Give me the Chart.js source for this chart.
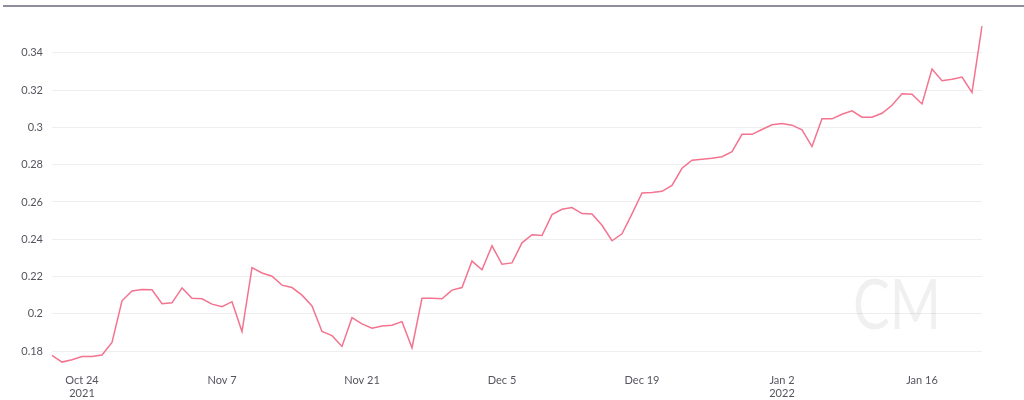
<!DOCTYPE html>
<html>
<head>
<meta charset="utf-8">
<script src="https://cdn.jsdelivr.net/npm/chart.js@4"></script>
<style>
  html, body { margin: 0; padding: 0; background: #fff; }
  #wrap { position: relative; width: 1024px; height: 400px; }
  #topline { position: absolute; left: 3px; right: 0; top: 5px; height: 0; border-top: 2px solid #8d8d9c; }
  canvas { position: absolute; left: 0; top: 0; }
</style>
</head>
<body>
<div id="wrap">
  <canvas id="chart" width="1024" height="400"></canvas>
  <div id="topline"></div>
</div>
<script>
// first day of the series, one value per day
const startDate = "2021-10-21"

const values = [
  0.1777, 0.1741, 0.1754, 0.1771, 0.1771, 0.1779, 0.1846, 0.2070, 0.2123, 0.2131,
  0.2129, 0.2054, 0.2059, 0.2139, 0.2084, 0.2081, 0.2052, 0.2038, 0.2065, 0.1905,
  0.2248, 0.2219, 0.2202, 0.2154, 0.2141, 0.2100, 0.2042, 0.1905, 0.1883, 0.1825,
  0.1979, 0.1946, 0.1923, 0.1935, 0.1939, 0.1958, 0.1818, 0.2083, 0.2083, 0.2081,
  0.2127, 0.2141, 0.2283, 0.2236, 0.2365, 0.2266, 0.2273, 0.2381, 0.2424, 0.2420,
  0.2532, 0.2561, 0.2570, 0.2538, 0.2536, 0.2475, 0.2392, 0.2429, 0.2536, 0.2648,
  0.2651, 0.2657, 0.2689, 0.2781, 0.2824, 0.2829, 0.2835, 0.2843, 0.2870, 0.2963,
  0.2963, 0.2989, 0.3014, 0.3021, 0.3012, 0.2987, 0.2897, 0.3046, 0.3046, 0.3071,
  0.3089, 0.3055, 0.3055, 0.3076, 0.3119, 0.3181, 0.3178, 0.3126, 0.3313, 0.3251,
  0.3259, 0.3270, 0.3188, 0.3544
]

// x axis ticks: day index -> label lines
const tickDays = [3, 17, 31, 45, 59, 73, 87]
const tickLabels = [["Oct 24", "2021"], "Nov 7", "Nov 21", "Dec 5", "Dec 19", ["Jan 2", "2022"], "Jan 16"]

const yTicks = [0.18, 0.2, 0.22, 0.24, 0.26, 0.28, 0.3, 0.32, 0.34]

// build the daily category labels
const labels = values.map((_, i) => {
  const d = new Date(startDate + "T00:00:00Z")
  d.setUTCDate(d.getUTCDate() + i)
  return d.toISOString().slice(0, 10)
})

// faint "CM" watermark behind the line
const watermark = {
  id: "watermark",
  beforeDatasetsDraw(chart) {
    const ctx = chart.ctx
    ctx.save()
    ctx.translate(853, 329)
    ctx.scale(0.8, 1)
    ctx.font = "400 69px Lato"
    ctx.fillStyle = "rgba(0, 0, 0, 0.06)"
    ctx.textBaseline = "alphabetic"
    ctx.fillText("CM", 0, 0)
    ctx.restore()
  }
}

new Chart(document.getElementById("chart"), {
  type: "line",
  data: {
    labels,
    datasets: [{
      data: values,
      borderColor: "#f4738f",
      borderWidth: 1.5,
      pointRadius: 0,
      tension: 0,
      fill: false
    }]
  },
  options: {
    responsive: false,
    animation: false,
    layout: { padding: { top: 14, right: 42, bottom: 0, left: 0 } },
    plugins: {
      legend: { display: false },
      tooltip: { enabled: false }
    },
    scales: {
      x: {
        grid: { display: false },
        border: { display: false },
        afterFit(scale) { scale.height = 34 },
        ticks: {
          autoSkip: false,
          maxRotation: 0,
          padding: 0,
          color: "#55555f",
          font: { family: "Lato", size: 11 },
          callback(value, index) {
            const k = tickDays.indexOf(index)
            return k >= 0 ? tickLabels[k] : null
          }
        }
      },
      y: {
        min: 0.172,
        max: 0.36,
        border: { display: false },
        grid: { color: "#eeeeee", drawTicks: false },
        afterFit(scale) { scale.width = 52 },
        afterBuildTicks(scale) {
          scale.ticks = yTicks.map(v => ({ value: v }))
        },
        ticks: {
          padding: 9,
          color: "#55555f",
          font: { family: "Lato", size: 11 },
          callback(value) {
            return String(Math.round(value * 100) / 100)
          }
        }
      }
    }
  },
  plugins: [watermark]
})
</script>
</body>
</html>
